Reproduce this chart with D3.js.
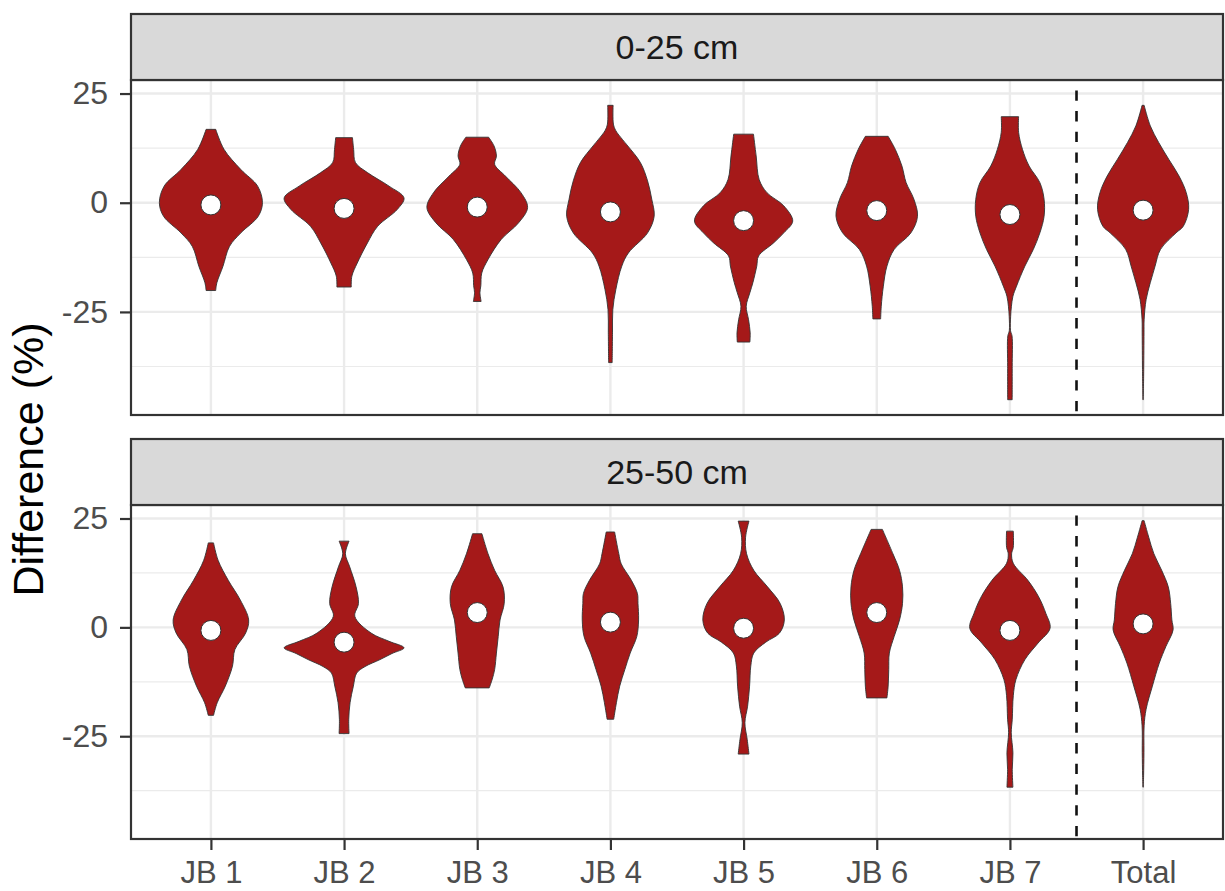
<!DOCTYPE html>
<html>
<head>
<meta charset="utf-8">
<script src="https://cdn.jsdelivr.net/npm/d3@7"></script>
<style>
  body { margin: 0; background: #fff; }
  svg { display: block; font-family: "Liberation Sans", Arial, sans-serif; }
</style>
</head>
<body>
<svg id="chart" width="1225" height="891"></svg>
<script>
// categories and facets
const sites = ["JB 1", "JB 2", "JB 3", "JB 4", "JB 5", "JB 6", "JB 7", "Total"];
const depths = ["0-25 cm", "25-50 cm"];
const yTicks = [-25, 0, 25];
const yMinorTicks = [-37.5, -12.5, 12.5];

// mean difference (%) per site, white points
const means0to25 = [-0.5, -1.3, -1.0, -2.1, -4.1, -1.8, -2.7, -1.7];
const means25to50 = [-0.7, -3.4, 3.4, 1.2, -0.2, 3.4, -0.7, 0.8];

// violin outlines: [difference (%), scaled density 0..1], top to bottom
const violins0to25 = [
  [[16.8, .08], [12.2, .22], [7.6, .5], [3.8, .78], [0, .86], [-3.1, .79], [-6.9, .5], [-10, .31], [-14.6, .2], [-18.3, .1], [-20.1, .08]],
  [[14.9, .14], [12.2, .16], [9.2, .19], [6.9, .39], [3.8, .75], [1.1, 1.0], [-1.5, .89], [-5.4, .56], [-9.2, .39], [-13.8, .22], [-16.8, .13], [-19.3, .12]],
  [[15, .19], [13, .28], [10.7, .32], [8.8, .29], [6.1, .47], [2.3, .73], [-1.1, .84], [-4.6, .69], [-8.4, .4], [-13, .18], [-16.1, .075], [-19, .06], [-20.6, .045], [-22.6, .065]],
  [[22.3, .045], [18, .05], [16.5, .09], [14.5, .2], [13, .29], [9.2, .5], [5, .62], [0.8, .69], [-3.1, .73], [-6.9, .62], [-11.5, .3], [-14.5, .19], [-19.9, .09], [-24.5, .04], [-29.8, .035], [-36.6, .03]],
  [[15.7, .165], [10.7, .21], [5.3, .26], [2.3, .39], [-0.7, .67], [-4.2, .82], [-6.9, .67], [-9.2, .5], [-12.2, .25], [-14.5, .22], [-18.3, .155], [-20.6, .105], [-23.7, .044], [-26.8, .083], [-29.8, .11], [-31.9, .105]],
  [[15.2, .19], [12.2, .31], [8.4, .42], [4.6, .49], [0.8, .62], [-3.1, .68], [-6.9, .57], [-10.7, .29], [-14.5, .17], [-19.1, .11], [-23.7, .075], [-26.6, .065]],
  [[19.7, .145], [16.1, .145], [12.2, .21], [8.4, .32], [4.6, .5], [0.8, .57], [-3.1, .57], [-6.9, .5], [-10.7, .39], [-14.5, .25], [-19.1, .11], [-21.4, .05], [-23.7, .025], [-26, .012], [-29.3, .01], [-30.5, .035], [-37.5, .038], [-45.1, .038]],
  [[22.3, .017], [17.6, .12], [13.8, .26], [9.9, .43], [6.1, .6], [2.3, .72], [-1.5, .76], [-5.4, .67], [-6.9, .55], [-10.7, .29], [-14.5, .2], [-18.3, .12], [-22.2, .05], [-26.8, .017], [-29.8, .015], [-38.2, .01], [-45.1, .003]]
];
const violins25to50 = [
  [[19.4, .044], [15.4, .12], [10.8, .29], [6.3, .49], [1.7, .63], [-1.3, .58], [-5.1, .4], [-8.9, .36], [-13.5, .24], [-17.3, .105], [-20.2, .044]],
  [[19.8, .083], [16.9, .022], [13.9, .094], [9.3, .2], [5.5, .24], [2.5, .18], [-1.3, .45], [-3.2, .75], [-4.7, 1.0], [-6, .8], [-7.4, .6], [-9, .35], [-10.5, .21], [-13.5, .155], [-17.3, .1], [-21.1, .078], [-24.4, .083]],
  [[21.5, .078], [16.9, .18], [13.1, .29], [9.3, .43], [5.5, .45], [1.7, .38], [-2.1, .35], [-5.9, .32], [-9.7, .29], [-11.9, .25], [-13.9, .2]],
  [[21.9, .07], [16.9, .14], [14.6, .18], [10.8, .35], [7.8, .45], [5.5, .46], [1.7, .47], [-2.1, .44], [-5.9, .33], [-9.7, .24], [-13.5, .155], [-17.3, .1], [-21.1, .055]],
  [[24.4, .09], [20.7, .033], [16.9, .05], [13.1, .17], [9.3, .4], [5.5, .61], [1.7, .68], [-1.3, .6], [-3.4, .37], [-5.9, .17], [-8.9, .12], [-13.5, .1], [-18.1, .067], [-21.9, .022], [-25.7, .06], [-29.1, .09]],
  [[22.5, .094], [16.9, .27], [13.1, .38], [9.3, .43], [5.5, .43], [1.7, .38], [-2.1, .29], [-5.9, .21], [-9.7, .2], [-13.5, .19], [-16.2, .17]],
  [[22.1, .056], [18.4, .056], [16.9, .028], [14.7, .056], [10.8, .3], [7, .48], [3.2, .6], [-0.2, .67], [-3.6, .47], [-7.4, .25], [-12, .1], [-15.7, .056], [-21.1, .039], [-24.2, .022], [-28.8, .05], [-32.6, .039], [-36.7, .05]],
  [[24.5, .017], [20.7, .094], [16.9, .18], [13.1, .31], [9.3, .42], [5.5, .46], [1.7, .48], [-0.6, .5], [-4.4, .38], [-8.2, .27], [-13.5, .155], [-18.8, .05], [-22.6, .017], [-28.7, .014], [-34.1, .008], [-36.7, .003]]
];

const svg = d3.select("#chart");
const left = 131, right = 1223;
const stripH = 66;
const panels = [
  { label: depths[0], top: 80, bottom: 415, violins: violins0to25, means: means0to25 },
  { label: depths[1], top: 505, bottom: 839, violins: violins25to50, means: means25to50 }
];

const x = d3.scalePoint().domain(sites).range([left, right]).padding(0.6);
const step = x.step();
const halfWidth = d3.scaleLinear().domain([0, 1]).range([0, 0.45 * step]);
const ink = "#333333";

panels.forEach((p, pi) => {
  const y = d3.scaleLinear().domain([-48.6, 28.1]).range([p.bottom, p.top]);
  const g = svg.append("g");

  // grid
  g.selectAll(".minor")
    .data(yMinorTicks)
    .join("line")
    .attr("x1", left).attr("x2", right)
    .attr("y1", (d) => y(d)).attr("y2", (d) => y(d))
    .attr("stroke", "#ebebeb").attr("stroke-width", 1.2);
  g.selectAll(".majorY")
    .data(yTicks)
    .join("line")
    .attr("x1", left).attr("x2", right)
    .attr("y1", (d) => y(d)).attr("y2", (d) => y(d))
    .attr("stroke", "#ebebeb").attr("stroke-width", 2.4);
  g.selectAll(".majorX")
    .data(sites)
    .join("line")
    .attr("x1", (d) => x(d)).attr("x2", (d) => x(d))
    .attr("y1", p.top).attr("y2", p.bottom)
    .attr("stroke", "#ebebeb").attr("stroke-width", 2.4);

  // separator between sites and total
  const sepX = (x("JB 7") + x("Total")) / 2;
  g.append("line")
    .attr("x1", sepX).attr("x2", sepX)
    .attr("y1", p.top).attr("y2", p.bottom)
    .attr("stroke", "#111").attr("stroke-width", 2.6)
    .attr("stroke-dasharray", "10.3,10.4")
    .attr("stroke-dashoffset", 10.3);

  // violins
  sites.forEach((s, i) => {
    const cx = x(s);
    const area = d3.area()
      .y((d) => y(d[0]))
      .x0((d) => cx - halfWidth(d[1]))
      .x1((d) => cx + halfWidth(d[1]))
      .curve(d3.curveCatmullRom.alpha(0.5));
    g.append("path")
      .attr("d", area(p.violins[i]))
      .attr("fill", "#a51919")
      .attr("stroke", ink)
      .attr("stroke-width", 0.9);
  });

  // mean points
  g.selectAll(".pt")
    .data(p.means)
    .join("circle")
    .attr("cx", (d, i) => x(sites[i]))
    .attr("cy", (d) => y(d))
    .attr("r", 10)
    .attr("fill", "#fff")
    .attr("stroke", ink)
    .attr("stroke-width", 1);

  // panel border
  g.append("rect")
    .attr("x", left).attr("y", p.top)
    .attr("width", right - left).attr("height", p.bottom - p.top)
    .attr("fill", "none").attr("stroke", ink).attr("stroke-width", 2.2);

  // strip
  g.append("rect")
    .attr("x", left).attr("y", p.top - stripH)
    .attr("width", right - left).attr("height", stripH)
    .attr("fill", "#d9d9d9").attr("stroke", ink).attr("stroke-width", 2.2);
  g.append("text")
    .attr("x", (left + right) / 2)
    .attr("y", p.top - stripH / 2 + 12)
    .attr("text-anchor", "middle")
    .attr("font-size", 34)
    .attr("fill", "#1a1a1a")
    .text(p.label);

  // y axis
  const ya = g.append("g")
    .attr("transform", `translate(${left},0)`)
    .call(d3.axisLeft(y).tickValues(yTicks).tickFormat((d) => String(d)).tickSize(11).tickPadding(12));
  ya.select(".domain").remove();
  ya.selectAll("line").attr("stroke", ink).attr("stroke-width", 2.2);
  ya.selectAll("text")
    .attr("font-size", 32)
    .attr("font-family", "Liberation Sans, Arial, sans-serif")
    .attr("fill", "#4d4d4d");

  // x axis only under the last panel
  if (pi === panels.length - 1) {
    const xa = g.append("g")
      .attr("transform", `translate(0,${p.bottom})`)
      .call(d3.axisBottom(x).tickSize(11).tickPadding(11));
    xa.select(".domain").remove();
    xa.selectAll("line").attr("stroke", ink).attr("stroke-width", 2.2);
    xa.selectAll("text")
      .attr("font-size", 31)
      .attr("font-family", "Liberation Sans, Arial, sans-serif")
      .attr("fill", "#4d4d4d");
  }
});

// y axis title
svg.append("text")
  .attr("transform", `translate(43,${(panels[0].top + panels[1].bottom) / 2}) rotate(-90)`)
  .attr("text-anchor", "middle")
  .attr("font-size", 43)
  .attr("fill", "#000")
  .text("Difference (%)");
</script>
</body>
</html>
